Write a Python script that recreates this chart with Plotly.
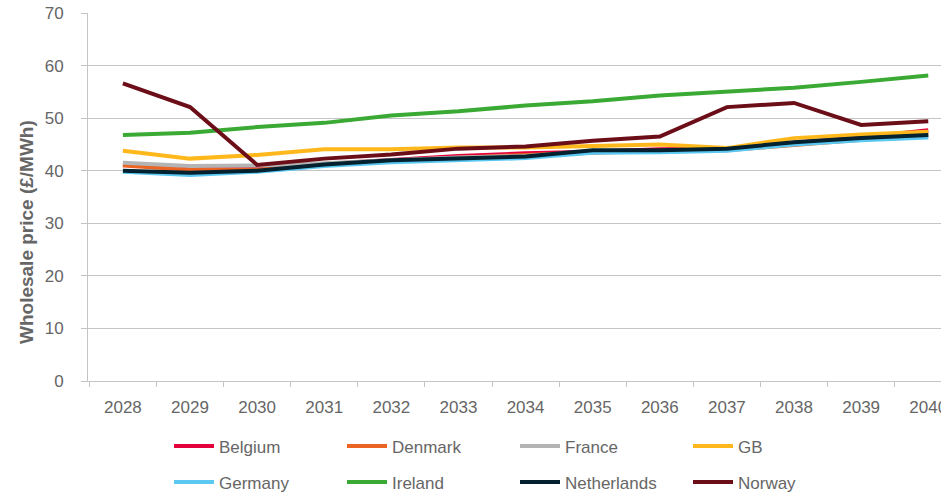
import plotly.graph_objects as go

years = ["2028", "2029", "2030", "2031", "2032", "2033", "2034",
         "2035", "2036", "2037", "2038", "2039", "2040"]

belgium = [41.2, 40.6, 40.5, 41.3, 42.0, 42.8, 43.3, 43.6, 44.1, 44.2, 45.3, 46.3, 47.7]
denmark = [41.0, 40.2, 40.2, 41.2, 41.9, 42.5, 43.0, 43.4, 43.8, 43.9, 44.9, 45.9, 47.1]
france = [41.5, 40.9, 41.0, 41.4, 42.0, 42.5, 42.8, 43.6, 43.6, 44.0, 45.2, 46.0, 46.6]
gb = [43.8, 42.3, 43.0, 44.1, 44.1, 44.4, 44.4, 44.7, 45.0, 44.3, 46.2, 46.9, 47.4]
germany = [39.8, 39.2, 39.8, 40.9, 41.6, 42.0, 42.4, 43.4, 43.5, 43.8, 45.0, 45.8, 46.3]
ireland = [46.8, 47.2, 48.3, 49.1, 50.5, 51.3, 52.4, 53.2, 54.3, 55.0, 55.8, 56.9, 58.1]
netherlands = [40.0, 39.6, 40.0, 41.2, 42.0, 42.4, 42.7, 43.9, 43.9, 44.2, 45.4, 46.2, 46.8]
norway = [56.6, 52.1, 41.1, 42.3, 43.1, 44.2, 44.6, 45.7, 46.5, 52.1, 52.9, 48.7, 49.4]

series = [
    ("Belgium", belgium, "#E4003B", "legend"),
    ("Denmark", denmark, "#EB6424", "legend"),
    ("France", france, "#B4B4B4", "legend"),
    ("GB", gb, "#FFB81C", "legend"),
    ("Germany", germany, "#5BC8F2", "legend2"),
    ("Ireland", ireland, "#3AAA35", "legend2"),
    ("Netherlands", netherlands, "#03212E", "legend2"),
    ("Norway", norway, "#6B0E18", "legend2"),
]

FONT = "Liberation Sans, Arial, sans-serif"
GREY_TXT = "#666666"
PLOT_L, PLOT_T, PLOT_B = 88, 13, 381
PLOT_W, PLOT_H = 941 - PLOT_L, PLOT_B - PLOT_T

fig = go.Figure()
for name, vals, col, lg in series:
    fig.add_trace(go.Scatter(x=years, y=vals, name=name, mode="lines",
                             line=dict(color=col, width=4), legend=lg))

leg_common = dict(orientation="h", xanchor="left", yanchor="top",
                  entrywidth=118, entrywidthmode="pixels",
                  font=dict(size=17, color=GREY_TXT), bgcolor="rgba(0,0,0,0)",
                  itemwidth=40)

fig.update_layout(
    width=941, height=496,
    margin=dict(l=PLOT_L, r=0, t=PLOT_T, b=496 - PLOT_B, autoexpand=False),
    plot_bgcolor="white", paper_bgcolor="white",
    font=dict(family=FONT, size=17, color=GREY_TXT),
    showlegend=True,
    legend=dict(x=(169 - PLOT_L) / PLOT_W, y=-(428.5 - PLOT_B) / PLOT_H, **leg_common),
    legend2=dict(x=(169 - PLOT_L) / PLOT_W, y=-(464.5 - PLOT_B) / PLOT_H, **leg_common),
    annotations=[dict(text="<b>Wholesale price (£/MWh)</b>", textangle=-90,
                      xref="paper", yref="paper",
                      x=(27 - PLOT_L) / PLOT_W, y=(PLOT_B - 232) / PLOT_H,
                      xanchor="center", yanchor="middle", showarrow=False,
                      font=dict(size=19, color=GREY_TXT, family=FONT))],
)
fig.update_xaxes(
    type="category", range=[-0.52, 12.19], automargin=False,
    showline=True, linecolor="#C4C4C4", linewidth=1,
    ticks="outside", tickson="boundaries", ticklen=5, tickcolor="#C4C4C4",
    showgrid=False, tickfont=dict(size=17, color=GREY_TXT),
    ticklabelstandoff=11,
)
fig.update_yaxes(
    range=[0, 70], dtick=10, automargin=False,
    showline=True, linecolor="#C4C4C4", linewidth=1,
    ticks="outside", ticklen=6, tickcolor="#C4C4C4",
    showgrid=True, gridcolor="#C4C4C4", gridwidth=1,
    zeroline=False,
    tickfont=dict(size=17, color=GREY_TXT),
    ticklabelstandoff=14,
)

fig.write_html("out.html", config={"displayModeBar": False},
               post_script="document.body.style.margin='0';document.body.style.overflow='hidden';")
